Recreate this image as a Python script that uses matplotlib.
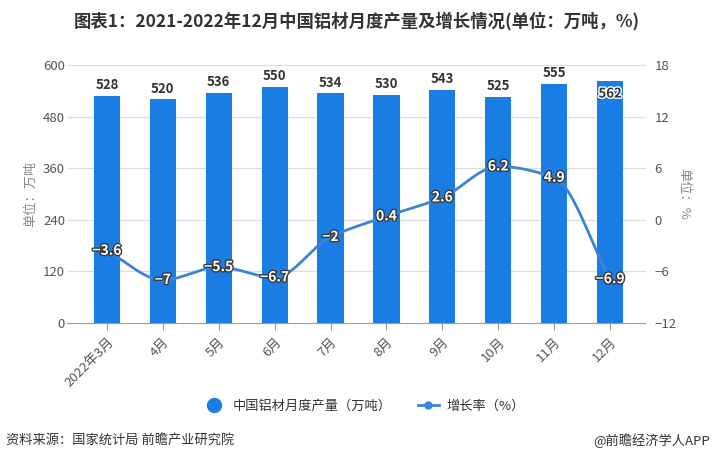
import matplotlib
matplotlib.use("Agg")
import matplotlib.pyplot as plt
import matplotlib.patheffects as pe
from matplotlib.lines import Line2D
import numpy as np

plt.rcParams['font.family'] = ['Noto Sans CJK SC', 'DejaVu Sans']

months = ["2022年3月", "4月", "5月", "6月", "7月", "8月", "9月", "10月", "11月", "12月"]
output = [528, 520, 536, 550, 534, 530, 543, 525, 555, 562]
growth = [-3.6, -7, -5.5, -6.7, -2, 0.4, 2.6, 6.2, 4.9, -6.9]
left_ticks = [0, 120, 240, 360, 480, 600]
right_ticks = [-12, -6, 0, 6, 12, 18]

bar_color = "#1a7de6"
line_color = "#3a84d8"
grid_color = "#dddddd"
text_color = "#555555"

fig = plt.figure(figsize=(7.14, 4.61), dpi=100)
ax = fig.add_axes([0.1106, 0.2993, 0.783, 0.5597])
ax2 = ax.twinx()

x = np.arange(len(months))
ax.bar(x, output, width=0.47, color=bar_color, zorder=2)
ax.set_ylim(0, 600)
ax.set_xlim(-0.5, len(months) - 0.5)
ax.set_yticks(left_ticks)
ax.set_xticks(x)
ax.set_xticklabels(months, rotation=45, ha='right', rotation_mode='anchor', fontsize=9.5, color=text_color)
ax.tick_params(axis='x', length=5, color='#999999', pad=4)
ax.tick_params(axis='y', length=0, labelsize=9.5, labelcolor=text_color, pad=10)
for t in left_ticks[1:]:
    ax.axhline(t, color=grid_color, lw=0.9, zorder=0, xmin=-0.02, xmax=1.012, clip_on=False)
for s in ['top', 'right', 'left']:
    ax.spines[s].set_visible(False)
ax2.spines[:].set_visible(False)
ax.spines['bottom'].set_color('#999999')
ax.spines['bottom'].set_bounds(-0.72, len(months) - 0.5 + 0.12)

for i, v in enumerate(output):
    if i == len(output) - 1:
        ax.text(i, v - 12, str(v), ha='center', va='top', fontsize=9.5, fontweight='bold', color='#333333',
                path_effects=[pe.withStroke(linewidth=2, foreground='white')], zorder=5)
    else:
        ax.text(i, v + 9, str(v), ha='center', va='bottom', fontsize=9.5, fontweight='bold', color='#333333', zorder=5)

# smooth monotone cubic rendering through the data points
gx = np.array(x, dtype=float)
gy = np.array(growth, dtype=float)
n = len(gx)
d = np.diff(gy) / np.diff(gx)
m = np.zeros(n)
m[0], m[-1] = d[0], d[-1]
for i in range(1, n - 1):
    if d[i - 1] * d[i] <= 0:
        m[i] = 0
    else:
        m[i] = 2 / (1 / d[i - 1] + 1 / d[i])
sx, sy = [], []
for i in range(n - 1):
    t = np.linspace(0, 1, 30)
    h = gx[i + 1] - gx[i]
    h00 = 2 * t**3 - 3 * t**2 + 1
    h10 = t**3 - 2 * t**2 + t
    h01 = -2 * t**3 + 3 * t**2
    h11 = t**3 - t**2
    sy.extend(h00 * gy[i] + h10 * h * m[i] + h01 * gy[i + 1] + h11 * h * m[i + 1])
    sx.extend(gx[i] + h * t)
ax2.plot(sx, sy, color=line_color, lw=2, zorder=3, solid_capstyle='round')
ax2.set_ylim(-12, 18)
ax2.set_yticks(right_ticks)
ax2.tick_params(axis='y', length=0, labelsize=9.5, labelcolor=text_color, pad=12)
for i, v in enumerate(growth):
    ax2.text(i, v, f"{v:g}".replace('-', '−'), ha='center', va='center', fontsize=10, fontweight='bold',
             color='white', path_effects=[pe.withStroke(linewidth=2, foreground='#3a3a3a')], zorder=6)

ax.set_ylabel("单位：万吨", fontsize=9.5, color='#888888', labelpad=4)
ax2.set_ylabel("单位：%", fontsize=9.5, color='#888888', rotation=270, labelpad=10)

fig.text(0.5, 0.955, "图表1：2021-2022年12月中国铝材月度产量及增长情况(单位：万吨，%)", ha='center', va='center',
         fontsize=12.5, fontweight='bold', color='#333333')

handles = [Line2D([0], [0], marker='o', color='none', markerfacecolor=bar_color, markeredgecolor=bar_color, markersize=10),
           Line2D([0], [0], marker='o', color=line_color, lw=2, markerfacecolor=line_color, markersize=5)]
fig.legend(handles, ["中国铝材月度产量（万吨）", "增长率（%）"], loc='center', bbox_to_anchor=(0.51, 0.118), ncol=2,
           frameon=False, fontsize=9.5, handlelength=1.6, columnspacing=2.0, handletextpad=0.6,
           labelcolor='#333333')

fig.text(0.008, 0.045, "资料来源：国家统计局 前瞻产业研究院", ha='left', va='center', fontsize=9.5, color='#333333')
fig.text(0.995, 0.045, "@前瞻经济学人APP", ha='right', va='center', fontsize=9.5, color='#333333')

fig.savefig("out.png", dpi=100)
